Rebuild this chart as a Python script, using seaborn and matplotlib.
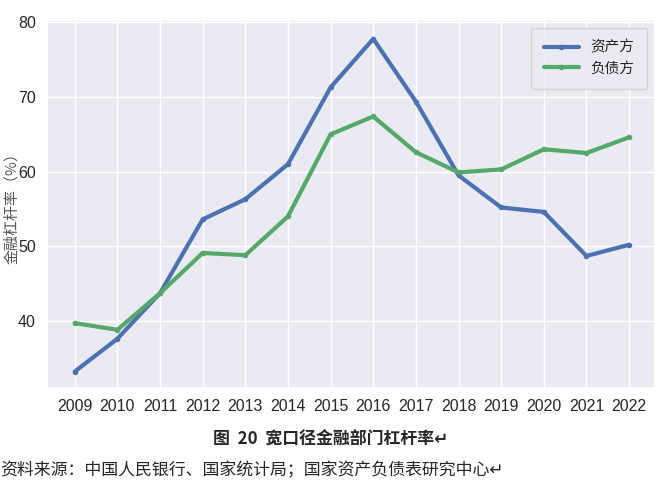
import numpy as np
import pandas as pd
import matplotlib
matplotlib.use("Agg")
import matplotlib.pyplot as plt
import seaborn as sns

years = list(range(2009, 2023))
asset_side = [33.2, 37.6, 43.7, 53.6, 56.3, 61.0, 71.3, 77.8, 69.4, 59.5, 55.2, 54.6, 48.7, 50.2]
liability_side = [39.7, 38.8, 43.7, 49.1, 48.8, 54.0, 65.0, 67.4, 62.6, 59.9, 60.3, 63.0, 62.5, 64.6]
series_names = ["资产方", "负债方"]

df = pd.DataFrame({
    "年份": years * 2,
    "杠杆率": asset_side + liability_side,
    "口径": [series_names[0]] * len(years) + [series_names[1]] * len(years),
})

sns.set_theme(style="darkgrid")
plt.rcParams["font.family"] = ["Liberation Sans", "Noto Sans CJK SC", "DejaVu Sans"]
cjk = ["Noto Sans CJK SC", "DejaVu Sans"]
deep = sns.color_palette("deep")
colors = [deep[0], deep[2]]

fig = plt.figure(figsize=(6.62, 4.93), dpi=100)
ax = fig.add_axes([0.071, 0.213, 0.918, 0.746])

sns.lineplot(data=df, x="年份", y="杠杆率", hue="口径", palette=colors, marker="o",
             markersize=4, markeredgewidth=0, linewidth=3, ax=ax)

ax.set_xlim(2008.35, 2022.6)
ax.set_ylim(31, 80.3)
ax.set_xticks(years)
ax.set_yticks([40, 50, 60, 70, 80])
ax.tick_params(axis="both", labelsize=11.5, pad=2)
ax.set_xlabel("")
ax.set_ylabel("金融杠杆率（%）", fontsize=10.8, family=cjk, color="#555555")
ax.yaxis.set_label_coords(-0.046, 0.5)

leg = ax.legend(loc="upper right", prop={"family": cjk, "size": 10.5},
                handlelength=2.4, borderpad=0.9, labelspacing=0.45)
leg.set_title(None)

fig.text(0.5, 0.108, "图  20  宽口径金融部门杠杆率↵", ha="center", va="center",
         fontsize=12.2, fontweight="bold", family=cjk)
fig.text(0.0, 0.047, "资料来源：中国人民银行、国家统计局；国家资产负债表研究中心↵",
         ha="left", va="center", fontsize=12.2, family=cjk)

fig.savefig("out.png", dpi=100)
